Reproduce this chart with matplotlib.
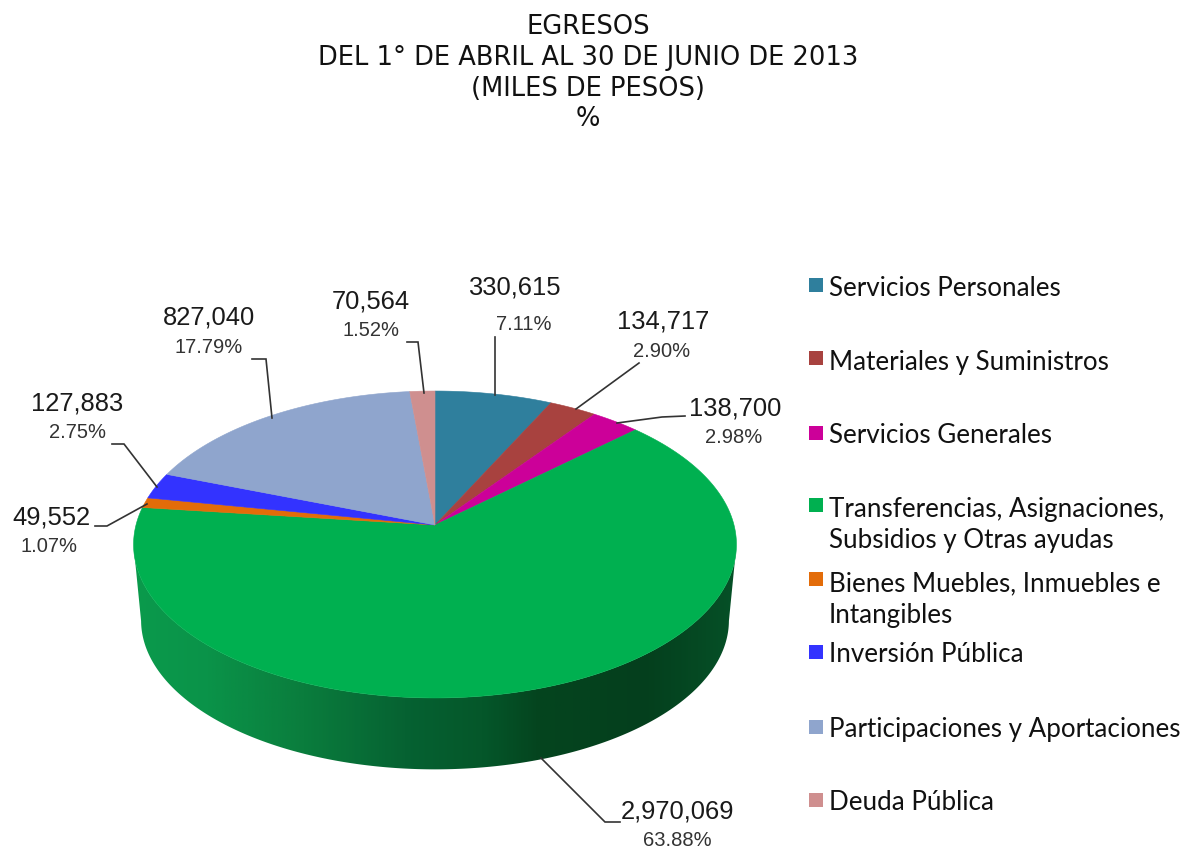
import numpy as np
import matplotlib
matplotlib.use("Agg")
import matplotlib.pyplot as plt
from matplotlib.colors import LinearSegmentedColormap
from matplotlib.patches import Polygon, Rectangle

categories = ["Servicios Personales", "Materiales y Suministros", "Servicios Generales",
              "Transferencias, Asignaciones,\nSubsidios y Otras ayudas",
              "Bienes Muebles, Inmuebles e\nIntangibles", "Inversión Pública",
              "Participaciones y Aportaciones", "Deuda Pública"]
values = [330615, 134717, 138700, 2970069, 49552, 127883, 827040, 70564]
percents = ["7.11%", "2.90%", "2.98%", "63.88%", "1.07%", "2.75%", "17.79%", "1.52%"]
colors = ["#2f7f9d", "#a8423f", "#cc0099", "#00b050", "#e36c09", "#3333ff", "#8fa5cd", "#cf8f8f"]
title_lines = ["EGRESOS", "DEL 1° DE ABRIL AL 30 DE JUNIO DE 2013", "(MILES DE PESOS)", "%"]

# label layout in pixels: (x, y of value), (x, y of percent)
value_pos = [(514, 288), (663, 322), (735, 408), (678, 812), (51, 517), (77, 403), (209, 318), (371, 302)]
pct_pos = [(524, 325), (662, 351), (734, 437), (677, 841), (49, 547), (77, 432), (209, 347), (371, 331)]
leaders = [[(495, 337), (495, 395)],
           [(639, 363), (576, 409)],
           [(685, 416), (662, 417), (617, 423)],
           [(541, 758), (605, 822), (620, 822)],
           [(95, 526), (107, 526), (147, 504)],
           [(112, 444), (124, 444), (157, 487)],
           [(252, 359), (266, 359), (272, 418)],
           [(407, 342), (418, 342), (424, 393)]]
legend_y = [285, 358, 433, 505, 579, 652, 727, 800]
legend_text_y = [288, 362, 435, 525, 600, 655, 729, 803]

CX, CY = 435, 525
RX, RY, K = 299, 151, 0.127


def project(theta):
    # tilted disc, clockwise from the top
    u, v = np.sin(theta), np.cos(theta)
    d = 1 + K * v
    return CX + RX * u / d, CY - RY * v / d


fig = plt.figure(figsize=(11.8, 8.5), dpi=100)
ax = fig.add_axes([0, 0, 1, 1])

# side of the pie
t = np.linspace(0, 2 * np.pi, 721)
tx, ty = project(t)
bx = CX + (tx - CX) * 0.975
by = 544 + (ty - 544) * 0.97 + 76
low_top = ty >= 544
low_bot = by >= 620
order_top = np.argsort(tx[low_top])
order_bot = np.argsort(bx[low_bot])[::-1]
side_xy = np.vstack([np.c_[tx[low_top][order_top], ty[low_top][order_top]],
                     np.c_[bx[low_bot][order_bot], by[low_bot][order_bot]]])
side = Polygon(side_xy, closed=True, fc="none", ec="none")
ax.add_patch(side)
stops = [(0.0, "#0b9a4c"), (0.12, "#0a9349"), (0.28, "#0a7d3d"), (0.45, "#066232"),
         (0.58, "#05572a"), (0.67, "#04451f"), (0.85, "#043f1d"), (1.0, "#065027")]
cmap = LinearSegmentedColormap.from_list("side", stops)
img = ax.imshow(np.linspace(0, 1, 300)[None, :], cmap=cmap, aspect="auto",
                extent=(134, 736, 790, 500), zorder=1)
img.set_clip_path(side)

# top of the pie
edges = np.cumsum([0] + values) / sum(values) * 2 * np.pi
for a, b, c in zip(edges[:-1], edges[1:], colors):
    th = np.linspace(a, b, max(int((b - a) * 120), 4))
    px, py = project(th)
    xy = np.vstack([[CX, CY], np.c_[px, py]])
    ax.add_patch(Polygon(xy, closed=True, fc=c, ec=c, lw=0.4, zorder=2))

for pts in leaders:
    xs, ys = zip(*pts)
    ax.plot(xs, ys, color="#333333", lw=1.2, zorder=3, solid_joinstyle="miter")

for v, p, vp, pp in zip(values, percents, value_pos, pct_pos):
    ax.text(vp[0], vp[1], f"{v:,}", ha="center", va="center", fontsize=18.4,
            family="Liberation Sans", color="#1a1a1a")
    ax.text(pp[0], pp[1], p, ha="center", va="center", fontsize=14.5,
            family="Liberation Sans", color="#333333")

for name, c, my, ty_ in zip(categories, colors, legend_y, legend_text_y):
    ax.add_patch(Rectangle((809, my - 7), 14, 14, fc=c, ec="none"))
    ax.text(829, ty_, name, ha="left", va="center", fontsize=18.7, linespacing=1.33,
            family="Lato", color="#111111")

for line, y in zip(title_lines, [27, 58, 89, 119]):
    ax.text(588, y, line, ha="center", va="center", fontsize=18.5,
            family="DejaVu Sans", color="#111111")

ax.set_xlim(0, 1180)
ax.set_ylim(850, 0)
ax.axis("off")
fig.savefig("out.png", dpi=100, facecolor="white")
